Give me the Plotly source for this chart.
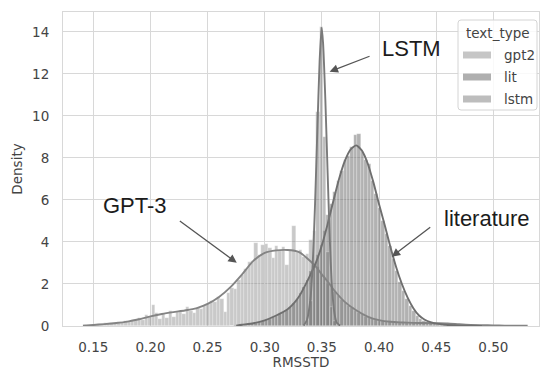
import numpy as np
import plotly.graph_objects as go

# Histogram bins shared by all three groups (density scale, common norm)
BIN_LEFT = 0.141
BIN_WIDTH = 0.003

# gpt2 bin densities, starting at the first bin
gpt2_density = [
    0.03, 0.00, 0.06, 0.04, 0.08, 0.05, 0.12, 0.09, 0.15, 0.12,
    0.20, 0.16, 0.25, 0.20, 0.30, 0.27, 0.38, 0.30, 0.52, 0.45,
    1.00, 0.62, 0.35, 0.58, 0.40, 0.70, 0.45, 0.66, 0.72, 0.55,
    0.92, 0.70, 0.62, 0.88, 0.80, 0.95, 1.05, 1.20, 1.15, 1.38,
    1.30, 0.65, 1.55, 1.80, 1.75, 2.20, 2.45, 2.70, 3.05, 3.10,
    3.95, 3.40, 3.85, 3.90, 3.70, 3.25, 3.80, 3.55, 3.75, 2.90,
    3.60, 4.75, 3.50, 3.60, 3.30, 3.45, 4.10, 2.90, 2.80, 2.50,
    2.40, 2.00, 1.85, 1.60, 1.45, 1.25, 1.10, 0.95, 0.85, 0.70,
    0.62, 0.55, 0.45, 0.38, 0.32, 0.30, 0.25, 0.22, 0.20, 0.20,
    0.17, 0.18, 0.15, 0.17, 0.14, 0.15, 0.13, 0.16, 0.12, 0.14,
    0.12, 0.13, 0.11, 0.12, 0.10, 0.11, 0.09, 0.08, 0.06, 0.05,
    0.04, 0.03, 0.03, 0.02, 0.02, 0.01, 0.02, 0.01, 0.01, 0.01,
    0.01, 0.00, 0.01, 0.01, 0.00, 0.01, 0.00, 0.01, 0.00, 0.01,
]

# lit bin densities, first value belongs to bin index LIT_FIRST_BIN
LIT_FIRST_BIN = 43
lit_density = [
    0.02, 0.03, 0.05, 0.06, 0.10, 0.10, 0.14, 0.16, 0.20, 0.24,
    0.30, 0.35, 0.42, 0.50, 0.58, 0.65, 0.78, 0.92, 1.10, 1.30,
    1.55, 1.85, 2.20, 2.60, 2.90, 3.40, 3.85, 4.50, 5.30, 5.80,
    6.40, 6.90, 7.40, 7.90, 8.10, 8.50, 9.10, 9.15, 8.30, 7.90,
    7.70, 6.90, 6.30, 5.60, 5.00, 4.40, 3.80, 3.20, 2.60, 2.10,
    1.65, 1.30, 0.95, 0.70, 0.50, 0.35, 0.25, 0.18, 0.12, 0.08,
    0.06, 0.04, 0.03, 0.02, 0.02, 0.01, 0.01,
]

# lstm bin densities, first value belongs to bin index LSTM_FIRST_BIN
LSTM_FIRST_BIN = 65
lstm_density = [0.30, 1.20, 4.50, 10.20, 14.24, 9.00, 3.50, 0.90, 0.25, 0.05]

# Kernel density curves (x, density)
gpt2_kde_x = [0.141, 0.15, 0.16, 0.17, 0.18, 0.19, 0.20, 0.21, 0.22, 0.23,
              0.24, 0.25, 0.26, 0.27, 0.28, 0.29, 0.30, 0.31, 0.32, 0.33,
              0.34, 0.345, 0.35, 0.355, 0.36, 0.37, 0.38, 0.39, 0.40, 0.41,
              0.42, 0.43, 0.44, 0.45, 0.46, 0.47, 0.48, 0.49, 0.50, 0.51,
              0.52, 0.53]
gpt2_kde_y = [0.02, 0.05, 0.09, 0.14, 0.21, 0.32, 0.46, 0.57, 0.66, 0.74,
              0.84, 1.05, 1.38, 1.85, 2.45, 3.10, 3.48, 3.60, 3.62, 3.52,
              3.08, 2.80, 2.45, 2.12, 1.75, 1.15, 0.75, 0.45, 0.28, 0.20,
              0.17, 0.15, 0.14, 0.13, 0.12, 0.08, 0.05, 0.04, 0.03, 0.02,
              0.015, 0.01]

lit_kde_x = [0.275, 0.28, 0.29, 0.30, 0.31, 0.32, 0.325, 0.33, 0.335, 0.34,
             0.345, 0.35, 0.355, 0.36, 0.365, 0.37, 0.375, 0.38, 0.385, 0.39,
             0.395, 0.40, 0.405, 0.41, 0.415, 0.42, 0.425, 0.43, 0.435, 0.44,
             0.445, 0.45, 0.46, 0.47, 0.48, 0.49]
lit_kde_y = [0.02, 0.06, 0.13, 0.27, 0.50, 0.80, 1.05, 1.40, 1.90, 2.45,
             3.05, 3.85, 4.85, 5.95, 7.00, 7.85, 8.40, 8.60, 8.35, 7.75,
             6.85, 5.80, 4.80, 3.75, 2.80, 2.00, 1.35, 0.85, 0.50, 0.30,
             0.18, 0.11, 0.05, 0.02, 0.01, 0.00]

lstm_kde_x = [0.334, 0.337, 0.340, 0.342, 0.344, 0.346, 0.348, 0.3497, 0.351,
              0.353, 0.355, 0.357, 0.359, 0.361, 0.363, 0.366]
lstm_kde_y = [0.02, 0.30, 1.30, 3.00, 5.80, 9.30, 12.60, 14.20, 13.50,
              10.80, 7.30, 4.00, 1.70, 0.60, 0.15, 0.02]

group_names = ["gpt2", "lit", "lstm"]

x_tick_vals = [0.15, 0.20, 0.25, 0.30, 0.35, 0.40, 0.45, 0.50]
x_tick_text = ["0.15", "0.20", "0.25", "0.30", "0.35", "0.40", "0.45", "0.50"]
y_tick_vals = [0, 2, 4, 6, 8, 10, 12, 14]
y_tick_text = ["0", "2", "4", "6", "8", "10", "12", "14"]

# ---------------------------------------------------------------------------
BAR_COLORS = ["rgba(135,135,135,0.45)", "rgba(95,95,95,0.48)", "rgba(118,118,118,0.48)"]
LEGEND_COLORS = ["#c6c6c6", "#afafaf", "#bdbdbd"]
LINE_COLORS = ["#848484", "#6f6f6f", "#7a7a7a"]
GRID = "#d8d8d8"
TICK_FONT = dict(family="DejaVu Sans", size=13.5, color="#444444")
NOTE_FONT = dict(family="Liberation Sans, Arial", size=22, color="#1c1c1c")


def centers(first_bin, n):
    return BIN_LEFT + BIN_WIDTH * (np.arange(first_bin, first_bin + n) + 0.5)


fig = go.Figure()

hist_sets = [
    (centers(0, len(gpt2_density)), gpt2_density),
    (centers(LIT_FIRST_BIN, len(lit_density)), lit_density),
    (centers(LSTM_FIRST_BIN, len(lstm_density)), lstm_density),
]
for name, (xs, ys), col in zip(group_names, hist_sets, BAR_COLORS):
    fig.add_trace(go.Bar(
        x=xs, y=ys, width=BIN_WIDTH, name=name, showlegend=False,
        marker=dict(color=col, line=dict(color="rgba(255,255,255,0.5)", width=0.5)),
    ))

kde_sets = [(gpt2_kde_x, gpt2_kde_y), (lit_kde_x, lit_kde_y), (lstm_kde_x, lstm_kde_y)]
for name, (xs, ys), col in zip(group_names, kde_sets, LINE_COLORS):
    fig.add_trace(go.Scatter(
        x=xs, y=ys, mode="lines", name=name, showlegend=False,
        line=dict(color=col, width=1.9, shape="spline", smoothing=0.6),
    ))

# Callout labels with arrows
notes = [
    ("LSTM", 0.4288, 13.22, (0.3567, 12.11), (0.3930, 12.87)),
    ("GPT-3", 0.1865, 5.76, (0.2755, 3.01), (0.2244, 5.05)),
    ("literature", 0.4944, 5.14, (0.4111, 3.30), (0.4461, 4.76)),
]
for text, tx, ty, head, tail in notes:
    fig.add_annotation(x=tx, y=ty, text=text, showarrow=False, font=NOTE_FONT,
                       xanchor="center", yanchor="middle")
    fig.add_annotation(x=head[0], y=head[1], ax=tail[0], ay=tail[1],
                       xref="x", yref="y", axref="x", ayref="y", text="",
                       showarrow=True, arrowhead=2, arrowsize=1.3, arrowwidth=1.3,
                       arrowcolor="#555555", standoff=0, startstandoff=0)

# Legend box drawn in pixel-derived paper coordinates
W, H = 540, 370
L, R, T, B = 63, 1, 12, 44
pw, ph = W - L - R, H - T - B


def px(x):
    return (x - L) / pw


def py(y):
    return (H - B - y) / ph


bx0, bx1, by0, by1, rad = 458, 537, 20, 110, 3
path = (f"M {px(bx0 + rad)},{py(by0)} L {px(bx1 - rad)},{py(by0)} "
        f"Q {px(bx1)},{py(by0)} {px(bx1)},{py(by0 + rad)} "
        f"L {px(bx1)},{py(by1 - rad)} Q {px(bx1)},{py(by1)} {px(bx1 - rad)},{py(by1)} "
        f"L {px(bx0 + rad)},{py(by1)} Q {px(bx0)},{py(by1)} {px(bx0)},{py(by1 - rad)} "
        f"L {px(bx0)},{py(by0 + rad)} Q {px(bx0)},{py(by0)} {px(bx0 + rad)},{py(by0)} Z")
fig.add_shape(type="path", path=path, xref="paper", yref="paper",
              fillcolor="rgba(255,255,255,0.85)", line=dict(color="#d4d4d4", width=1), layer="above")
fig.add_annotation(x=px(497.5), y=py(33), xref="paper", yref="paper", text="text_type",
                   showarrow=False, font=TICK_FONT, xanchor="center", yanchor="middle")
for i, (name, col) in enumerate(zip(group_names, LEGEND_COLORS)):
    cy = 55 + 22 * i
    fig.add_shape(type="rect", xref="paper", yref="paper",
                  x0=px(463), x1=px(491), y0=py(cy - 3.5), y1=py(cy + 3.5),
                  fillcolor=col, line=dict(width=0), layer="above")
    fig.add_annotation(x=px(502), y=py(cy), xref="paper", yref="paper", text=name,
                       showarrow=False, font=TICK_FONT, xanchor="left", yanchor="middle")

x0 = 0.15 - (93.3 - L) / 1143
fig.update_layout(
    width=W, height=H,
    margin=dict(l=L, r=R, t=T, b=B),
    paper_bgcolor="white", plot_bgcolor="white",
    barmode="overlay", bargap=0,
    showlegend=False,
    xaxis=dict(range=[x0, x0 + pw / 1143], tickvals=x_tick_vals, ticktext=x_tick_text,
               showgrid=True, gridcolor=GRID, gridwidth=1, zeroline=False,
               showline=True, linecolor=GRID, mirror=True, ticks="",
               tickfont=TICK_FONT, ticklabelstandoff=9,
               title=dict(text="RMSSTD", font=TICK_FONT, standoff=1)),
    yaxis=dict(range=[0, 14.95], tickvals=y_tick_vals, ticktext=y_tick_text,
               showgrid=True, gridcolor=GRID, gridwidth=1, zeroline=False,
               showline=True, linecolor=GRID, mirror=True, ticks="",
               tickfont=TICK_FONT, ticklabelstandoff=10,
               title=dict(text="Density", font=TICK_FONT, standoff=6)),
)

fig.write_html("out.html")
